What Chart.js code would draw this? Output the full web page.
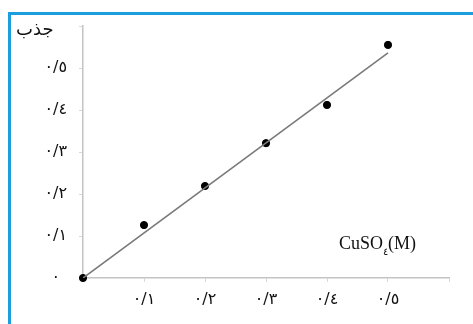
<!DOCTYPE html>
<html>
<head>
<meta charset="utf-8">
<script src="https://cdn.jsdelivr.net/npm/chart.js@4/dist/chart.umd.min.js"></script>
<style>
  html, body { margin:0; padding:0; background:#fff; }
  #wrap { position:relative; width:473px; height:324px; overflow:hidden; }
  #frame { position:absolute; left:8px; top:12px; width:480px; height:330px;
           border-top:3px solid #1a9fdc; border-left:3px solid #1a9fdc; }
  canvas { position:absolute; left:0; top:0; }
</style>
</head>
<body>
<div id="wrap">
  <div id="frame"></div>
  <canvas id="canvas" width="473" height="324"></canvas>
</div>
<script>
// concentration (M) and absorbance
var concentrations = [0, 0.1, 0.2, 0.3, 0.4, 0.5]
var absorbance = [0, 0.126, 0.219, 0.321, 0.412, 0.555]
// fitted straight line, its two ends
var fitX = [0, 0.5]
var fitY = [0, 0.536]
var xTickLabels = {1:'٠/١', 2:'٠/٢', 3:'٠/٣', 4:'٠/٤', 5:'٠/٥'}
var yTickLabels = {0:'٠', 1:'٠/١', 2:'٠/٢', 3:'٠/٣', 4:'٠/٤', 5:'٠/٥'}

var points = concentrations.map(function(c, i){ return {x:c, y:absorbance[i]} })
var fitLine = fitX.map(function(c, i){ return {x:c, y:fitY[i]} })

// axis titles drawn as text
var labelsPlugin = {
    id:'labels',
    afterDraw: function(chart){
        var ctx = chart.ctx
        ctx.save()
        ctx.fillStyle = '#111'
        ctx.font = '18px "DejaVu Sans"'
        ctx.textAlign = 'left'
        ctx.textBaseline = 'middle'
        ctx.fillText('جذب', 16, 30)
        ctx.font = '18px "Liberation Serif"'
        ctx.fillText('CuSO', 339, 244)
        var w = ctx.measureText('CuSO').width
        ctx.font = '10px "DejaVu Sans"'
        ctx.fillText('٤', 339 + w, 252)
        ctx.font = '18px "Liberation Serif"'
        ctx.fillText('(M)', 339 + w + 5, 244)
        ctx.restore()
    }
}

var chart = new Chart(canvas, {
    type: 'scatter',
    data: {
        datasets: [{
            label: 'fit',
            data: fitLine,
            showLine: true,
            borderColor: '#7a7a7a',
            borderWidth: 1.6,
            pointRadius: 0,
            fill: false
        }, {
            label: 'data',
            data: points,
            backgroundColor: '#000',
            borderColor: '#000',
            pointRadius: 3.6,
            pointHoverRadius: 3.6,
            clip: false
        }]
    },
    options: {
        responsive: false,
        animation: false,
        layout: { padding: { left:0, right:24, top:26, bottom:0 } },
        plugins: { legend: { display:false }, tooltip: { enabled:false } },
        scales: {
            x: {
                type: 'linear',
                min: 0, max: 0.6,
                afterFit: function(s){ s.height = 46 },
                border: { color:'#c4c4c4', width:1.5 },
                grid: { drawOnChartArea:false, color:'#d8d8d8', tickLength:4 },
                ticks: {
                    stepSize: 0.1,
                    padding: 8,
                    color: '#111',
                    font: { family:'DejaVu Sans', size:16 },
                    callback: function(v){ return xTickLabels[Math.round(v*10)] || '' }
                }
            },
            y: {
                min: 0, max: 0.6,
                afterFit: function(s){ s.width = 83 },
                border: { color:'#c4c4c4', width:1.5 },
                grid: { drawOnChartArea:false, color:'#d8d8d8', tickLength:4 },
                ticks: {
                    stepSize: 0.1,
                    padding: 12,
                    crossAlign: 'center',
                    color: '#111',
                    font: { family:'DejaVu Sans', size:16 },
                    callback: function(v){ return yTickLabels[Math.round(v*10)] || '' }
                }
            }
        }
    },
    plugins: [labelsPlugin]
})
</script>
</body>
</html>
